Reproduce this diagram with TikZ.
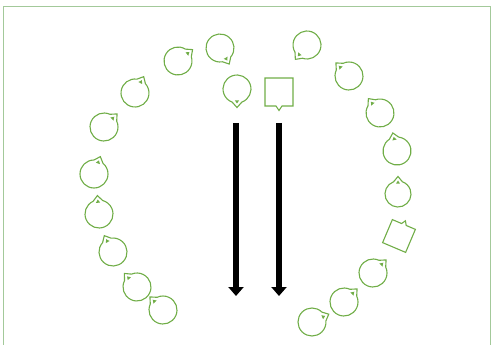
\documentclass[tikz,border=0pt]{standalone}
\usetikzlibrary{arrows.meta}
\definecolor{lgreen}{HTML}{70AD47}
\definecolor{bgreen}{HTML}{A3C99A}
\tikzset{
  loopshape/.style={draw=lgreen, line width=1.1pt, line join=miter},
  tipfill/.style={fill=lgreen},
  bigarrow/.style={line width=6pt, -{Triangle[width=15pt,length=9pt]}},
  frame/.style={draw=bgreen, line width=0.9pt}
}
% \tear{name}{x}{y}{tip angle}{radius}
\newcommand\tear[5]{%
  \coordinate (#1) at (#2,-#3);
  \draw[loopshape] ([shift={({#4+20}:#5)}]#1) arc[start angle={#4+20}, end angle={#4+340}, radius=#5]
     -- ([shift={(#4:{#5+4.5})}]#1) -- cycle;
  \fill[tipfill] ([shift={(#4:{#5+0.5})}]#1) -- ([shift={({#4+11}:{#5-2.5})}]#1) -- ([shift={({#4-11}:{#5-2.5})}]#1) -- cycle;
}
\begin{document}
\begin{tikzpicture}[x=1pt,y=1pt]
\useasboundingbox (0,0) rectangle (491,-345);
% frame
\coordinate (fbl) at (3,-346);
\coordinate (ftl) at (3,-6);
\coordinate (ftr) at (490,-6);
\coordinate (fbr) at (490,-346);
\draw[frame] (fbl) -- (ftl) -- (ftr) -- (fbr);
% left arc
\tear{c1}{220}{48}{-60}{14}
\tear{c2}{178}{61}{38}{14}
\tear{c3}{135}{93}{62}{14}
\tear{c4}{104}{127}{45}{14}
\tear{c5}{94}{174}{70}{14}
\tear{c6}{99}{214}{95}{14}
\tear{c7}{113}{252}{118}{14}
\tear{c8}{137}{287}{133}{14}
\tear{c9}{163}{310}{135}{14}
% right arc
\tear{c10}{307}{45}{231}{14}
\tear{c11}{349}{76}{135}{14}
\tear{c12}{380}{113}{129}{14}
\tear{c13}{397}{151}{103}{14}
\tear{c14}{398}{194}{90}{13}
\tear{c16}{373}{273}{45}{14}
\tear{c17}{344}{302}{45}{14}
\tear{c18}{312}{322}{25}{14}
% rotated square
\begin{scope}[shift={(399,-236)}, rotate=-23]
  \coordinate (sq2) at (0,0);
  \draw[loopshape] ([shift={(-12.5,-12.5)}]sq2) -- ([shift={(12.5,-12.5)}]sq2) -- ([shift={(12.5,12.5)}]sq2)
     -- ([shift={(2.5,12.5)}]sq2) -- ([shift={(0,16.5)}]sq2) -- ([shift={(-2.5,12.5)}]sq2)
     -- ([shift={(-12.5,12.5)}]sq2) -- cycle;
\end{scope}
% center shapes
\tear{c19}{237}{89}{-90}{14}
\coordinate (sq1) at (279,-92);
\draw[loopshape] ([shift={(-14,14)}]sq1) -- ([shift={(14,14)}]sq1) -- ([shift={(14,-14)}]sq1)
   -- ([shift={(3,-14)}]sq1) -- ([shift={(0,-18.5)}]sq1) -- ([shift={(-3,-14)}]sq1)
   -- ([shift={(-14,-14)}]sq1) -- cycle;
% arrows
\coordinate (a1s) at (236,-123);
\coordinate (a1e) at (236,-296);
\coordinate (a2s) at (279,-123);
\coordinate (a2e) at (279,-296);
\draw[bigarrow] (a1s) -- (a1e);
\draw[bigarrow] (a2s) -- (a2e);
\end{tikzpicture}
\end{document}
